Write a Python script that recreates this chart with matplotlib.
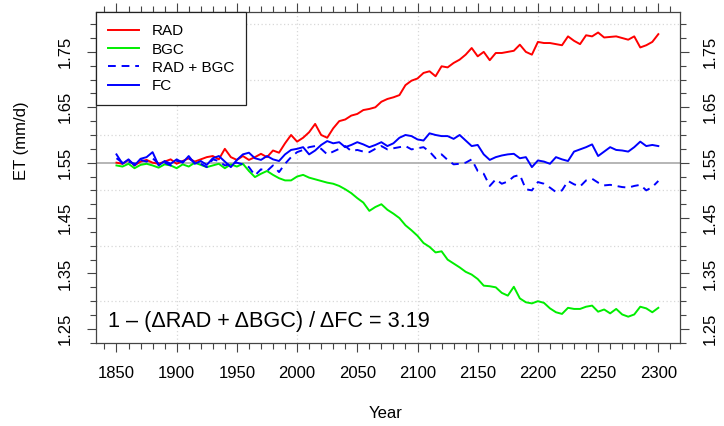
import numpy as np
import matplotlib
matplotlib.use("Agg")
import matplotlib.pyplot as plt
from matplotlib.ticker import MultipleLocator

plt.rcParams["font.family"] = ["Liberation Sans", "DejaVu Sans"]

# values, every 5 years
years = np.arange(1850, 2301, 5)

rad = [1.550, 1.548, 1.555, 1.545, 1.552, 1.555, 1.550, 1.548, 1.552, 1.556,
       1.548, 1.553, 1.558, 1.552, 1.556, 1.560, 1.562, 1.556, 1.575, 1.560,
       1.555, 1.562, 1.555, 1.560, 1.566, 1.560, 1.572, 1.568, 1.585, 1.600,
       1.588, 1.595, 1.605, 1.620, 1.600, 1.595, 1.612, 1.625, 1.628, 1.635,
       1.638, 1.645, 1.647, 1.650, 1.660, 1.665, 1.668, 1.672, 1.690, 1.698,
       1.702, 1.712, 1.715, 1.706, 1.724, 1.722, 1.730, 1.736, 1.745, 1.757,
       1.742, 1.750, 1.735, 1.748, 1.748, 1.750, 1.752, 1.763, 1.750, 1.745,
       1.768, 1.766, 1.766, 1.764, 1.762, 1.778, 1.770, 1.764, 1.780, 1.778,
       1.785, 1.776, 1.777, 1.778, 1.775, 1.772, 1.778, 1.758, 1.762, 1.768,
       1.782]

bgc = [1.545, 1.543, 1.548, 1.540, 1.546, 1.548, 1.545, 1.541, 1.547, 1.545,
       1.540, 1.547, 1.543, 1.550, 1.546, 1.542, 1.545, 1.548, 1.540, 1.547,
       1.543, 1.548, 1.535, 1.524, 1.530, 1.535, 1.528, 1.522, 1.518, 1.518,
       1.525, 1.528, 1.523, 1.520, 1.517, 1.514, 1.512, 1.508, 1.502, 1.495,
       1.486, 1.478, 1.463, 1.470, 1.475, 1.465, 1.458, 1.450, 1.437, 1.428,
       1.418, 1.405, 1.398, 1.388, 1.390, 1.375, 1.368, 1.361, 1.353, 1.348,
       1.340, 1.328, 1.327, 1.325, 1.315, 1.310, 1.326, 1.305, 1.298, 1.296,
       1.300, 1.297, 1.287, 1.280, 1.277, 1.288, 1.286, 1.286, 1.290, 1.292,
       1.281, 1.285, 1.278, 1.286, 1.276, 1.272, 1.276, 1.290, 1.287, 1.280,
       1.288]

rad_bgc = [1.558, 1.550, 1.552, 1.548, 1.555, 1.552, 1.558, 1.548, 1.550, 1.545,
           1.553, 1.552, 1.558, 1.550, 1.548, 1.542, 1.556, 1.553, 1.545, 1.548,
           1.550, 1.547, 1.542, 1.527, 1.538, 1.535, 1.545, 1.533, 1.548, 1.560,
           1.569, 1.573, 1.578, 1.580, 1.575, 1.565, 1.570, 1.575, 1.580, 1.571,
           1.573, 1.570, 1.569, 1.575, 1.580, 1.574, 1.576, 1.578, 1.580, 1.574,
           1.576, 1.578, 1.570, 1.558, 1.565, 1.555, 1.547, 1.548, 1.550, 1.556,
           1.535, 1.530, 1.508, 1.520, 1.512, 1.516, 1.525, 1.528, 1.502, 1.500,
           1.515, 1.512, 1.505, 1.497, 1.500, 1.517, 1.511, 1.507, 1.518, 1.521,
           1.514, 1.509, 1.510, 1.508, 1.506, 1.505, 1.508, 1.510, 1.500, 1.506,
           1.517]

fc = [1.565, 1.548, 1.556, 1.545, 1.557, 1.560, 1.569, 1.545, 1.553, 1.548,
      1.556, 1.550, 1.562, 1.548, 1.553, 1.546, 1.558, 1.562, 1.552, 1.542,
      1.555, 1.565, 1.568, 1.558, 1.555, 1.562, 1.556, 1.553, 1.565, 1.573,
      1.575, 1.578, 1.565, 1.572, 1.582, 1.589, 1.585, 1.587, 1.578, 1.582,
      1.587, 1.583, 1.578, 1.582, 1.587, 1.580, 1.585, 1.595, 1.600, 1.598,
      1.592, 1.590, 1.603, 1.600, 1.598, 1.598, 1.593, 1.600, 1.590, 1.580,
      1.582, 1.565, 1.555, 1.560, 1.563, 1.565, 1.566, 1.558, 1.560, 1.542,
      1.554, 1.552, 1.548, 1.560, 1.556, 1.553, 1.570, 1.574, 1.578, 1.583,
      1.562, 1.570, 1.578, 1.573, 1.572, 1.570, 1.578, 1.588, 1.580, 1.582,
      1.580]

ref_level = 1.55

fig = plt.figure(figsize=(7.24, 4.26), dpi=100)
ax = fig.add_axes([96/724, 83/426, 584/724, 331/426])

ax.axhline(ref_level, color="#b0b0b0", lw=1.3, zorder=1)
ax.plot(years, rad, color="#ff0000", lw=1.4, label="RAD", zorder=3)
ax.plot(years, bgc, color="#00ee00", lw=1.4, label="BGC", zorder=3)
ax.plot(years, rad_bgc, color="#0000ff", lw=1.4, ls=(0, (4, 3)), label="RAD + BGC", zorder=3)
ax.plot(years, fc, color="#0000ff", lw=1.4, label="FC", zorder=3)

ax.set_xlim(1833, 2318)
ax.set_ylim(1.2245, 1.822)

ax.xaxis.set_major_locator(MultipleLocator(50))
ax.xaxis.set_minor_locator(MultipleLocator(10))
ax.set_yticks([1.25, 1.35, 1.45, 1.55, 1.65, 1.75])
ax.yaxis.set_minor_locator(MultipleLocator(0.025))

# dotted grid
for gx in [1900, 2000, 2100, 2200]:
    ax.axvline(gx, color="#d8d8d8", lw=0.9, ls=(0, (1, 2)), zorder=0)
for gy in [1.30, 1.40, 1.50, 1.60, 1.70, 1.80]:
    ax.axhline(gy, color="#d8d8d8", lw=0.9, ls=(0, (1, 2)), zorder=0)

ax.tick_params(which="both", direction="out", top=True, right=True,
               labelright=True, color="#444444", width=0.8)
ax.tick_params(which="major", length=6.5, labelsize=12, pad=10)
ax.tick_params(which="minor", length=4)
for lab in ax.get_yticklabels():
    lab.set_rotation(90)
    lab.set_va("center")
for sp in ax.spines.values():
    sp.set_color("#444444")
    sp.set_linewidth(0.9)

leg = ax.legend(loc="upper left", bbox_to_anchor=(0, 1), borderaxespad=0,
                fancybox=False, edgecolor="#222222", fontsize=11,
                handlelength=2.0, handletextpad=0.85, labelspacing=0.28,
                borderpad=0.8, framealpha=1)
leg.get_frame().set_linewidth(0.9)

ax.text((108 - 96)/584, 0.065, "1 \u2013 (\u0394RAD + \u0394BGC) / \u0394FC = 3.19",
        transform=ax.transAxes, fontsize=15.6, ha="left", va="center")

fig.text(386/724, 1 - 413/426, "Year", fontsize=12, ha="center", va="center")
fig.text(22/724, 1 - 141/426, "ET (mm/d)", fontsize=12, ha="center", va="center", rotation=90)

fig.savefig("out.png", dpi=100)
